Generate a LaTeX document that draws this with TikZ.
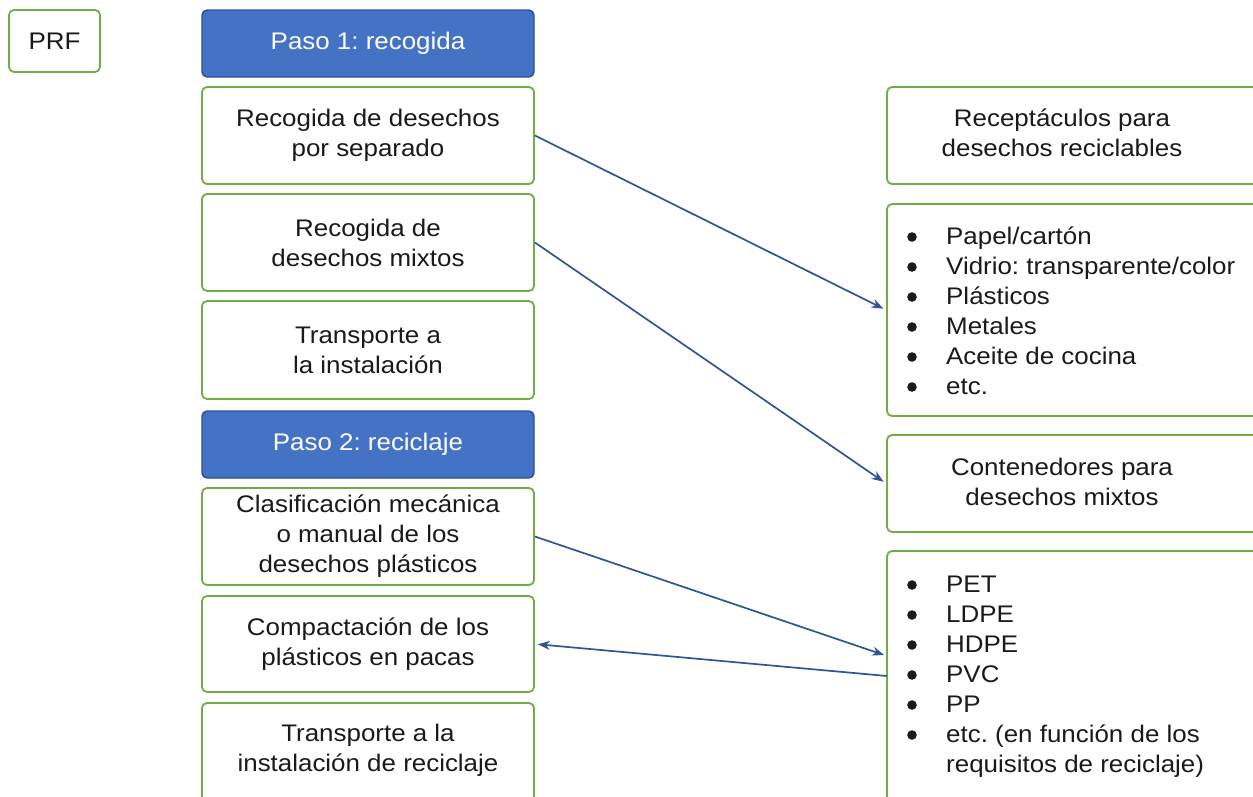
\documentclass[tikz,border=0pt]{standalone}
\usepackage{fontspec}
\setmainfont{Liberation Sans}[FakeStretch=1.08]
\usetikzlibrary{arrows.meta}
\definecolor{grn}{HTML}{70AD47}
\definecolor{blu}{HTML}{4472C4}
\definecolor{bludark}{HTML}{2F528F}
\definecolor{arr}{HTML}{2F5597}
\definecolor{txt}{HTML}{1A1A1A}
\tikzset{
  box/.style={draw=grn, line width=1.8pt, rounded corners=5pt, fill=white, inner sep=0pt,
    text=txt, align=center, font=\fontsize{24}{30}\selectfont},
  headbox/.style={box, draw=bludark, fill=blu, text=white, line width=1.4pt},
  lbl/.style={inner sep=0pt, text=txt, align=center, font=\fontsize{24}{30}\selectfont},
  lst/.style={inner sep=0pt, text=txt, anchor=west, align=left, font=\fontsize{24}{30}\selectfont},
  dot/.style={fill=txt, draw=none},
  conn/.style={draw=arr, line width=1.7pt, -{Stealth[length=12pt,width=9pt]}, shorten >=3pt},
}
\frenchspacing
\begin{document}
\begin{tikzpicture}[x=1pt,y=-1pt]
\useasboundingbox (0,0) rectangle (1253,796);
\clip (0,0) rectangle (1253,796);
% left column
\node[box, minimum width=91pt, minimum height=62pt] (prf) at (54.5,41) {PRF};
\node[headbox, minimum width=332pt, minimum height=67pt] (h1) at (368,43.5) {Paso 1: recogida};
\node[box, minimum width=332pt, minimum height=97pt] (l1) at (368,135.5) {Recogida de desechos\\por separado};
\node[box, minimum width=332pt, minimum height=97pt] (l2) at (368,242.5) {Recogida de\\desechos mixtos};
\node[box, minimum width=332pt, minimum height=98pt] (l3) at (368,350) {Transporte a\\la instalación};
\node[headbox, minimum width=332pt, minimum height=67pt] (h2) at (368,444.5) {Paso 2: reciclaje};
\node[box, minimum width=332pt, minimum height=97pt] (l4) at (368,536.5) {Clasificación mecánica\\o manual de los\\desechos plásticos};
\node[box, minimum width=332pt, minimum height=96pt] (l5) at (368,644) {Compactación de los\\plásticos en pacas};
\node[box, minimum width=332pt, minimum height=110pt] (l6) at (368,758) {};
\node[lbl] (t6) at (368,750) {Transporte a la\\instalación de reciclaje};
% right column
\node[box, minimum width=403pt, minimum height=97pt] (r1) at (1088.5,135.5) {};
\node[lbl] (t1) at (1062,133) {Receptáculos para\\desechos reciclables};
\node[box, minimum width=403pt, minimum height=212pt] (r2) at (1088.5,310) {};
\node[lst] (t2) at (946,311) {Papel/cartón\\Vidrio: transparente/color\\Plásticos\\Metales\\Aceite de cocina\\etc.};
\foreach \y in {237,267,297,327,357,387} \fill[dot] (912,\y) circle (4.8pt);
\node[box, minimum width=403pt, minimum height=97pt] (r3) at (1088.5,483.5) {};
\node[lbl] (t3) at (1062,482) {Contenedores para\\desechos mixtos};
\node[box, minimum width=403pt, minimum height=269pt] (r4) at (1088.5,685.5) {};
\node[lst] (t4) at (946,677) {PET\\LDPE\\HDPE\\PVC\\PP\\etc. (en función de los\\requisitos de reciclaje)};
\foreach \y in {585,615,645,675,705,735} \fill[dot] (912,\y) circle (4.8pt);
\coordinate (c3) at (887,656);
\coordinate (c4) at (887,676);
% connectors
\draw[conn] (l1.east) -- (r2.west);
\draw[conn] (l2.east) -- (r3.west);
\draw[conn] (l4.east) -- (c3);
\draw[conn] (c4) -- (l5.east);
\end{tikzpicture}
\end{document}
